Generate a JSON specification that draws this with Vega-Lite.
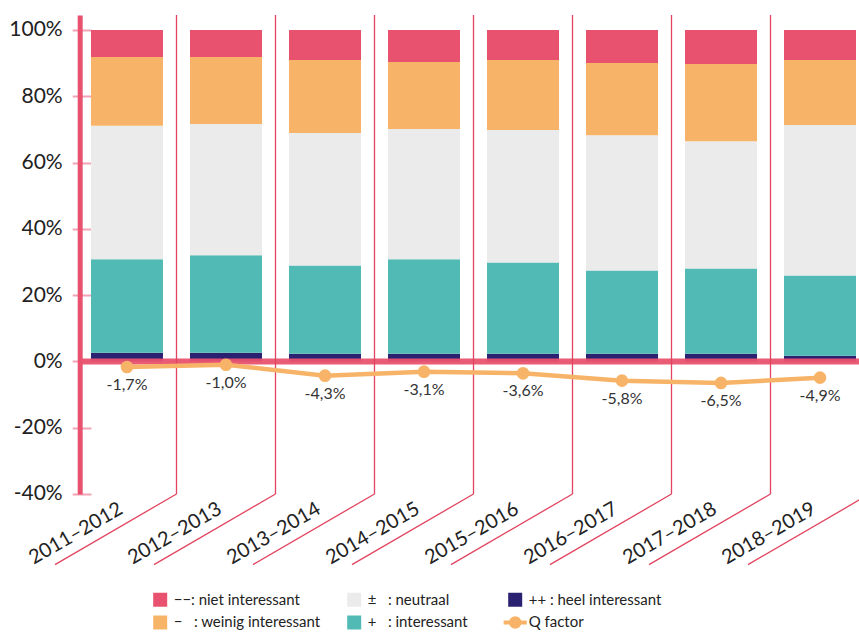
{
  "$schema": "https://vega.github.io/schema/vega-lite/v6.json",
  "autosize": {"type": "none"},
  "padding": {"left": 79.7, "top": 15, "right": 0, "bottom": 139},
  "width": 787.6,
  "height": 479,
  "config": {"view": {"stroke": null}, "font": "Lato"},
  "datasets": {
    "bars": [
      {"jaar": "2011–2012", "antwoord": "++ : heel interessant", "rank": 1, "pct": 2.6},
      {"jaar": "2011–2012", "antwoord": "+\u00a0\u00a0\u00a0: interessant", "rank": 2, "pct": 28.2},
      {"jaar": "2011–2012", "antwoord": "±\u00a0\u00a0\u00a0: neutraal", "rank": 3, "pct": 40.3},
      {"jaar": "2011–2012", "antwoord": "−\u00a0\u00a0\u00a0: weinig interessant", "rank": 4, "pct": 20.7},
      {"jaar": "2011–2012", "antwoord": "−−: niet interessant", "rank": 5, "pct": 8.2},
      {"jaar": "2012–2013", "antwoord": "++ : heel interessant", "rank": 1, "pct": 2.6},
      {"jaar": "2012–2013", "antwoord": "+\u00a0\u00a0\u00a0: interessant", "rank": 2, "pct": 29.4},
      {"jaar": "2012–2013", "antwoord": "±\u00a0\u00a0\u00a0: neutraal", "rank": 3, "pct": 39.6},
      {"jaar": "2012–2013", "antwoord": "−\u00a0\u00a0\u00a0: weinig interessant", "rank": 4, "pct": 20.2},
      {"jaar": "2012–2013", "antwoord": "−−: niet interessant", "rank": 5, "pct": 8.2},
      {"jaar": "2013–2014", "antwoord": "++ : heel interessant", "rank": 1, "pct": 2.3},
      {"jaar": "2013–2014", "antwoord": "+\u00a0\u00a0\u00a0: interessant", "rank": 2, "pct": 26.6},
      {"jaar": "2013–2014", "antwoord": "±\u00a0\u00a0\u00a0: neutraal", "rank": 3, "pct": 40.0},
      {"jaar": "2013–2014", "antwoord": "−\u00a0\u00a0\u00a0: weinig interessant", "rank": 4, "pct": 22.0},
      {"jaar": "2013–2014", "antwoord": "−−: niet interessant", "rank": 5, "pct": 9.1},
      {"jaar": "2014–2015", "antwoord": "++ : heel interessant", "rank": 1, "pct": 2.3},
      {"jaar": "2014–2015", "antwoord": "+\u00a0\u00a0\u00a0: interessant", "rank": 2, "pct": 28.5},
      {"jaar": "2014–2015", "antwoord": "±\u00a0\u00a0\u00a0: neutraal", "rank": 3, "pct": 39.3},
      {"jaar": "2014–2015", "antwoord": "−\u00a0\u00a0\u00a0: weinig interessant", "rank": 4, "pct": 20.2},
      {"jaar": "2014–2015", "antwoord": "−−: niet interessant", "rank": 5, "pct": 9.7},
      {"jaar": "2015–2016", "antwoord": "++ : heel interessant", "rank": 1, "pct": 2.3},
      {"jaar": "2015–2016", "antwoord": "+\u00a0\u00a0\u00a0: interessant", "rank": 2, "pct": 27.5},
      {"jaar": "2015–2016", "antwoord": "±\u00a0\u00a0\u00a0: neutraal", "rank": 3, "pct": 40.0},
      {"jaar": "2015–2016", "antwoord": "−\u00a0\u00a0\u00a0: weinig interessant", "rank": 4, "pct": 21.1},
      {"jaar": "2015–2016", "antwoord": "−−: niet interessant", "rank": 5, "pct": 9.1},
      {"jaar": "2016–2017", "antwoord": "++ : heel interessant", "rank": 1, "pct": 2.3},
      {"jaar": "2016–2017", "antwoord": "+\u00a0\u00a0\u00a0: interessant", "rank": 2, "pct": 25.1},
      {"jaar": "2016–2017", "antwoord": "±\u00a0\u00a0\u00a0: neutraal", "rank": 3, "pct": 40.8},
      {"jaar": "2016–2017", "antwoord": "−\u00a0\u00a0\u00a0: weinig interessant", "rank": 4, "pct": 21.8},
      {"jaar": "2016–2017", "antwoord": "−−: niet interessant", "rank": 5, "pct": 10.0},
      {"jaar": "2017–2018", "antwoord": "++ : heel interessant", "rank": 1, "pct": 2.3},
      {"jaar": "2017–2018", "antwoord": "+\u00a0\u00a0\u00a0: interessant", "rank": 2, "pct": 25.7},
      {"jaar": "2017–2018", "antwoord": "±\u00a0\u00a0\u00a0: neutraal", "rank": 3, "pct": 38.4},
      {"jaar": "2017–2018", "antwoord": "−\u00a0\u00a0\u00a0: weinig interessant", "rank": 4, "pct": 23.3},
      {"jaar": "2017–2018", "antwoord": "−−: niet interessant", "rank": 5, "pct": 10.3},
      {"jaar": "2018–2019", "antwoord": "++ : heel interessant", "rank": 1, "pct": 1.7},
      {"jaar": "2018–2019", "antwoord": "+\u00a0\u00a0\u00a0: interessant", "rank": 2, "pct": 24.2},
      {"jaar": "2018–2019", "antwoord": "±\u00a0\u00a0\u00a0: neutraal", "rank": 3, "pct": 45.4},
      {"jaar": "2018–2019", "antwoord": "−\u00a0\u00a0\u00a0: weinig interessant", "rank": 4, "pct": 19.6},
      {"jaar": "2018–2019", "antwoord": "−−: niet interessant", "rank": 5, "pct": 9.1}
    ],
    "q": [
      {"jaar": "2011–2012", "q": -1.7, "lab": "-1,7%"},
      {"jaar": "2012–2013", "q": -1.0, "lab": "-1,0%"},
      {"jaar": "2013–2014", "q": -4.3, "lab": "-4,3%"},
      {"jaar": "2014–2015", "q": -3.1, "lab": "-3,1%"},
      {"jaar": "2015–2016", "q": -3.6, "lab": "-3,6%"},
      {"jaar": "2016–2017", "q": -5.8, "lab": "-5,8%"},
      {"jaar": "2017–2018", "q": -6.5, "lab": "-6,5%"},
      {"jaar": "2018–2019", "q": -4.9, "lab": "-4,9%"}
    ]
  },
  "layer": [
    {
      "data": {"name": "bars"},
      "mark": {"type": "bar"},
      "encoding": {
        "x": {
          "field": "jaar", "type": "nominal", "title": null, "sort": null,
          "scale": {"paddingInner": 0.2727, "paddingOuter": 0.114},
          "axis": {
            "labelAngle": -30, "labelAlign": "right", "labelBaseline": "middle",
            "labelFontSize": 20, "labelFont": "Lato", "labelColor": "#222222",
            "domain": false, "ticks": false, "grid": false, "labelPadding": 13, "labelOffset": -6
          }
        },
        "y": {
          "field": "pct", "type": "quantitative", "title": null, "stack": "zero",
          "scale": {"domain": [-40, 104.5], "nice": false, "zero": false},
          "axis": {
            "values": [-40, -20, 0, 20, 40, 60, 80, 100],
            "labelExpr": "datum.value + '%'",
            "labelFontSize": 21, "labelFont": "Lato", "labelColor": "#222222",
            "labelPadding": 10, "labelOverlap": false,
            "tickSize": 7.5, "tickColor": "#F3A3B4", "tickWidth": 2,
            "domainColor": "#E9526F", "domainWidth": 5,
            "grid": true, "gridColor": "#F3A3B4", "gridWidth": 2, "gridDash": [11.3, 3000]
          }
        },
        "color": {
          "field": "antwoord", "type": "nominal",
          "scale": {
            "domain": ["−−: niet interessant", "−\u00a0\u00a0\u00a0: weinig interessant", "±\u00a0\u00a0\u00a0: neutraal", "+\u00a0\u00a0\u00a0: interessant", "++ : heel interessant", "Q factor"],
            "range": ["#E9526F", "#F7B468", "#EBEBEB", "#52BAB5", "#2B2171", "#F7B468"]
          },
          "legend": {
            "orient": "none", "legendX": 73, "legendY": 577, "columns": 3, "title": null,
            "symbolType": "square", "symbolSize": 196, "symbolStrokeWidth": 0,
            "labelFontSize": 15, "labelFont": "Lato", "labelColor": "#222222", "labelLimit": 300,
            "padding": 0, "rowPadding": 2, "columnPadding": 26, "labelOffset": 6,
            "encode": {
              "symbols": {
                "update": {
                  "shape": {"signal": "datum.label === 'Q factor' ? 'M-1.65,0H1.65M0.6,0A0.6,0.6,0,1,1,-0.6,0A0.6,0.6,0,1,1,0.6,0' : 'square'"},
                  "strokeWidth": {"signal": "datum.label === 'Q factor' ? 4 : 0"},
                  "stroke": {"value": "#F7B468"}
                }
              }
            }
          }
        },
        "order": {"field": "rank", "type": "quantitative"}
      }
    },
    {
      "data": {"values": [{"v": 0}]},
      "mark": {"type": "rule", "color": "#E9526F", "strokeWidth": 6, "opacity": 0.95},
      "encoding": {"y": {"field": "v", "type": "quantitative", "title": null}}
    },
    {
      "data": {"name": "q"},
      "mark": {"type": "rule", "color": "#E2445F", "strokeWidth": 1.3},
      "encoding": {
        "x": {"field": "jaar", "type": "nominal", "title": null, "bandPosition": 1.1875},
        "y": {"datum": 104.5},
        "y2": {"datum": -40}
      }
    },
    {
      "data": {"name": "q"},
      "mark": {"type": "rule", "color": "#E2445F", "strokeWidth": 1.3},
      "encoding": {
        "x": {"field": "jaar", "type": "nominal", "title": null, "bandPosition": 1.1875},
        "x2": {"field": "jaar", "bandPosition": -0.5},
        "y": {"datum": -40},
        "y2": {"datum": -61.3}
      }
    },
    {
      "data": {"name": "q"},
      "mark": {"type": "line", "color": "#F7B468", "strokeWidth": 4.5, "point": {"filled": true, "size": 160, "color": "#F7B468", "opacity": 1}},
      "encoding": {
        "x": {"field": "jaar", "type": "nominal", "title": null},
        "y": {"field": "q", "type": "quantitative", "title": null}
      }
    },
    {
      "data": {"name": "q"},
      "mark": {"type": "text", "dy": 18, "fontSize": 16, "font": "Lato", "color": "#333333"},
      "encoding": {
        "x": {"field": "jaar", "type": "nominal", "title": null},
        "y": {"field": "q", "type": "quantitative", "title": null},
        "text": {"field": "lab"}
      }
    }
  ]
}
